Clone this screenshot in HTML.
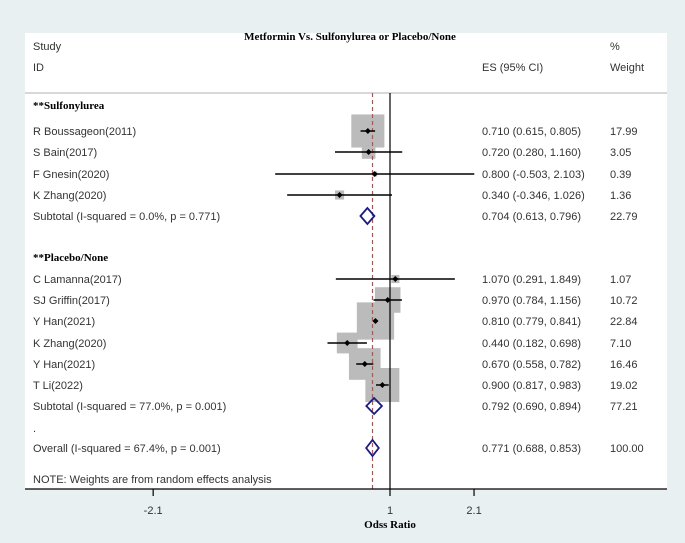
<!DOCTYPE html>
<html><head><meta charset="utf-8"><style>
html,body{margin:0;padding:0;background:#e8f0f2;}
svg{display:block;}
text{font-family:"Liberation Sans",sans-serif;font-size:11px;fill:#333;}
.b{font-family:"Liberation Serif",serif;font-weight:bold;fill:#000;}
</style></head><body>
<svg id="c" width="685" height="543">
<rect x="0" y="0" width="685" height="543" fill="#e8f0f2"/>
<rect x="25" y="33" width="642" height="456" fill="#fff"/>
<text class="b" x="350" y="40" text-anchor="middle" font-size="11">Metformin Vs. Sulfonylurea or Placebo/None</text>
<text x="33" y="50">Study</text>
<text x="33" y="71">ID</text>
<text x="482" y="71">ES (95% CI)</text>
<text x="610" y="50">%</text>
<text x="610" y="71">Weight</text>
<line x1="25" y1="93" x2="667" y2="93" stroke="#ccc" stroke-width="1.5"/>
<g id="marks"></g>
<line x1="25" y1="489" x2="667" y2="489" stroke="#000" stroke-width="1.2"/>
<text class="b" x="390" y="528" text-anchor="middle" font-size="11">Odss Ratio</text>
<text x="33" y="483">NOTE: Weights are from random effects analysis</text>
<text x="33" y="432">.</text>
</svg>
<script>
const labels=["**Sulfonylurea","R Boussageon(2011)","S Bain(2017)","F Gnesin(2020)","K Zhang(2020)","Subtotal  (I-squared = 0.0%, p = 0.771)","**Placebo/None","C Lamanna(2017)","SJ Griffin(2017)","Y Han(2021)","K Zhang(2020)","Y Han(2021)","T Li(2022)","Subtotal  (I-squared = 77.0%, p = 0.001)","Overall  (I-squared = 67.4%, p = 0.001)"];
const kinds=["h","s","s","s","s","d","h","s","s","s","s","s","s","d","d"];
const es=[null,0.710,0.720,0.800,0.340,0.704,null,1.070,0.970,0.810,0.440,0.670,0.900,0.792,0.771];
const lo=[null,0.615,0.280,-0.503,-0.346,0.613,null,0.291,0.784,0.779,0.182,0.558,0.817,0.690,0.688];
const hi=[null,0.805,1.160,2.103,1.026,0.796,null,1.849,1.156,0.841,0.698,0.782,0.983,0.894,0.853];
const weights=[null,17.99,3.05,0.39,1.36,22.79,null,1.07,10.72,22.84,7.10,16.46,19.02,77.21,100.00];
const rowY=[105,131,152,174,195,216,257,279,300,321,343,364,385,406,448];
const ticks=[-2.1,1,2.1];
const overallES=0.771;
const ns="http://www.w3.org/2000/svg";
const X=v=>390+(v-1)*76.4;
const g=document.getElementById('marks');
const svg=document.getElementById('c');
function mk(t,a,p){const e=document.createElementNS(ns,t);for(const k in a)e.setAttribute(k,a[k]);(p||g).appendChild(e);return e;}
const fmt=v=>v.toFixed(3);
// boxes first
kinds.forEach((k,i)=>{if(k!=="s")return;const s=7.8*Math.sqrt(weights[i]);
const r=mk('rect',{x:X(es[i])-s/2,y:rowY[i]-s/2,width:s,height:s,fill:'#bbb'});

});
// reference lines
let l=mk('line',{x1:390,y1:93,x2:390,y2:489,stroke:'#000','stroke-width':1.2});


l=mk('line',{x1:X(overallES),y1:93,x2:X(overallES),y2:489,stroke:'#a05a5a','stroke-width':1.2,'stroke-dasharray':'4,3'});


kinds.forEach((k,i)=>{const y=rowY[i];
const t=mk('text',{x:33,y:y+4,class:k==='h'?'b':''});t.textContent=labels[i];


if(k==='h')return;
const e=mk('text',{x:482,y:y+4});e.textContent=`${fmt(es[i])} (${fmt(lo[i])}, ${fmt(hi[i])})`;


const w=mk('text',{x:610,y:y+4});w.textContent=weights[i].toFixed(2);


if(k==='s'){
const c=mk('line',{x1:X(lo[i]),y1:y,x2:X(hi[i]),y2:y,stroke:'#000','stroke-width':1.5});


const p=mk('path',{d:`M${X(es[i])-3},${y}L${X(es[i])},${y-3}L${X(es[i])+3},${y}L${X(es[i])},${y+3}Z`,fill:'#000'});


}else{
const d=mk('path',{d:`M${X(lo[i])},${y}L${X(es[i])},${y-8}L${X(hi[i])},${y}L${X(es[i])},${y+8}Z`,fill:'none',stroke:'#1a1a80','stroke-width':1.8});


}});
ticks.forEach((v,i)=>{
const t=mk('line',{x1:X(v),y1:489,x2:X(v),y2:496,stroke:'#000','stroke-width':1.2},svg);


const tl=mk('text',{x:X(v),y:514,'text-anchor':'middle'},svg);tl.textContent=String(v);

});
</script>
</body></html>
